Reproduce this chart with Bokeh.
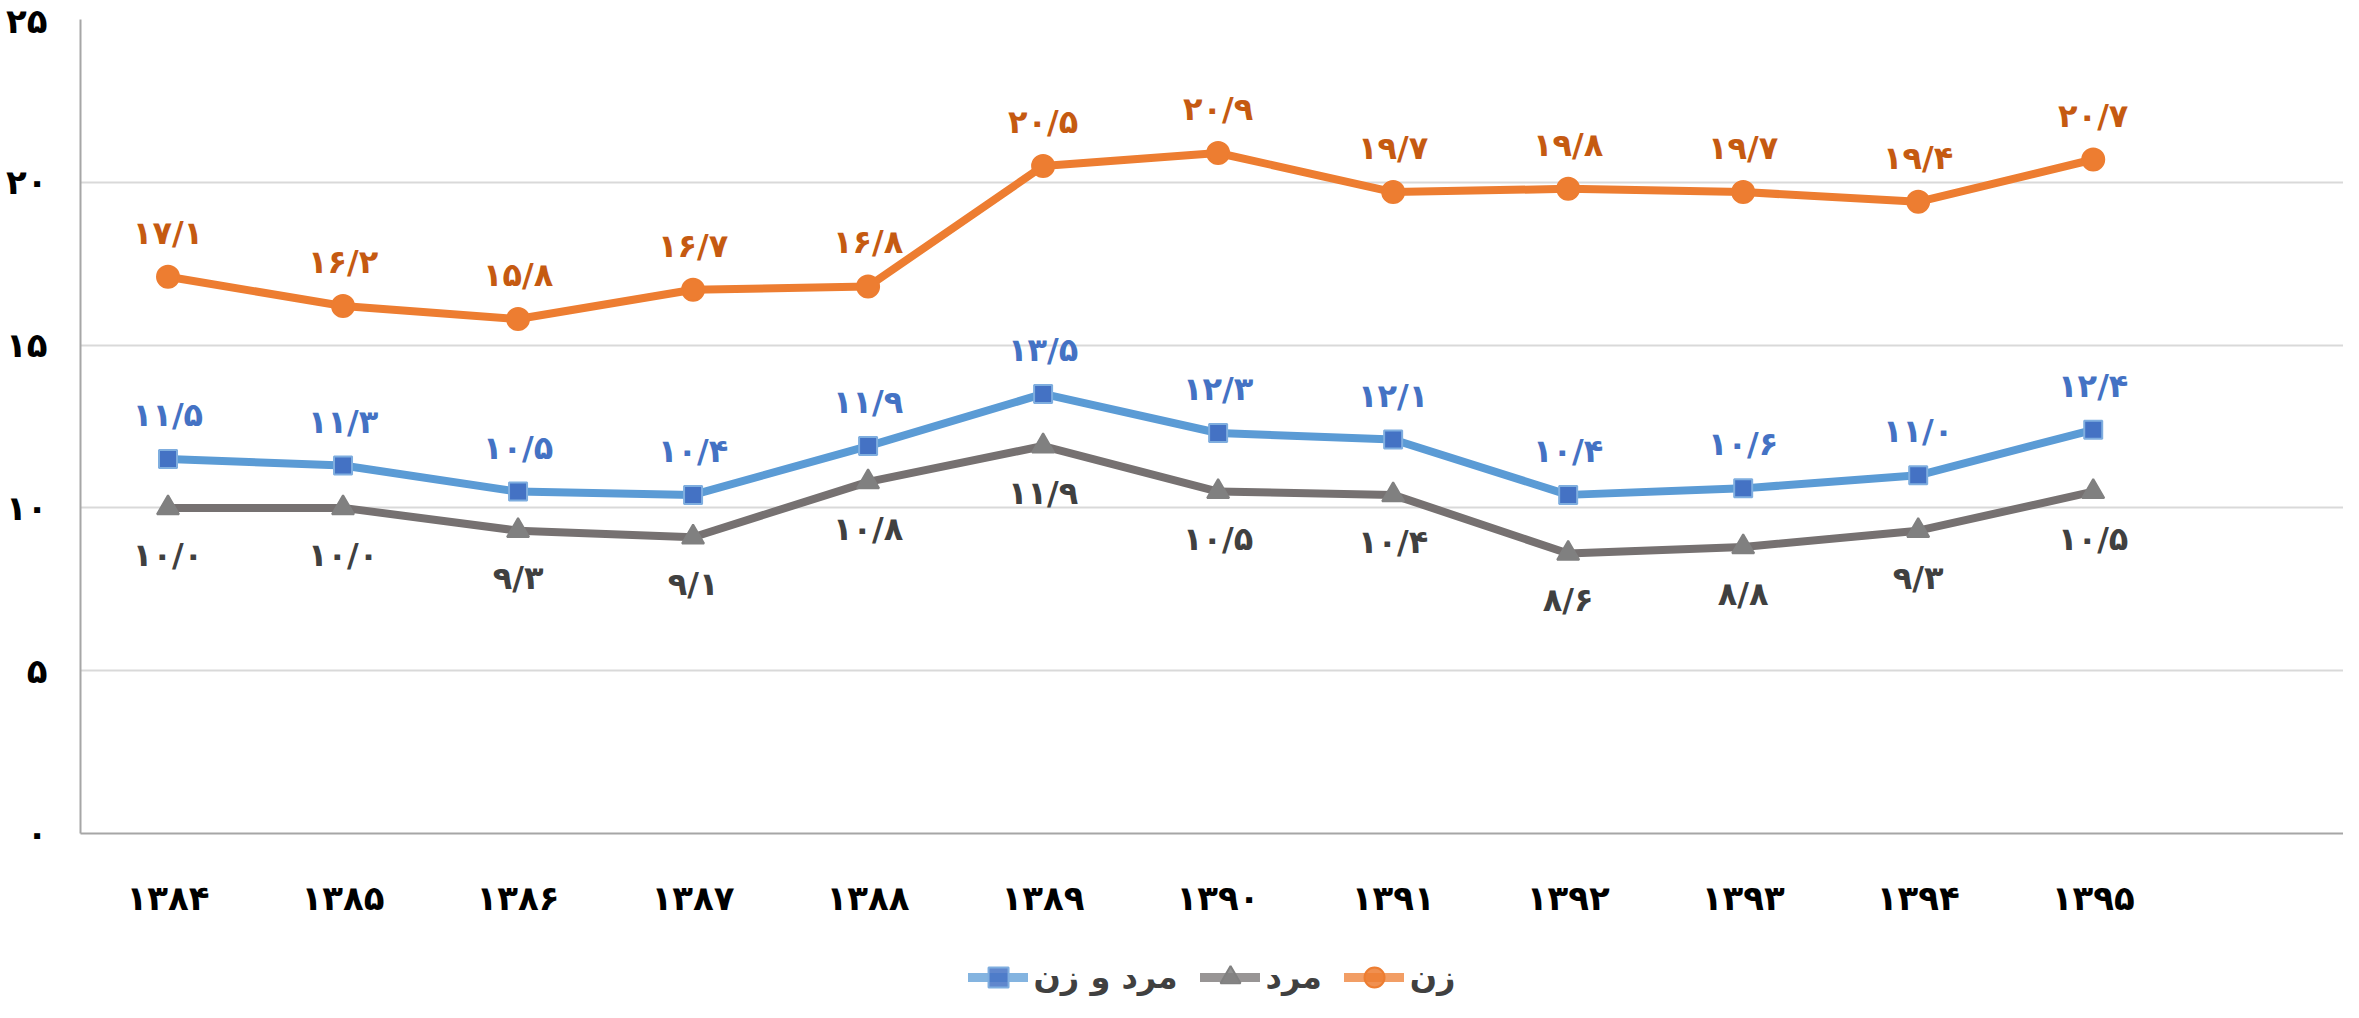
from bokeh.plotting import figure
from bokeh.layouts import column
from bokeh.models import (Range1d, FixedTicker, Legend, LegendItem, ColumnDataSource)
from bokeh.core.properties import value
from bokeh.embed import file_html
from bokeh.resources import INLINE

years = ["1384", "1385", "1386", "1387", "1388", "1389", "1390", "1391", "1392", "1393", "1394", "1395"]
women = [17.1, 16.2, 15.8, 16.7, 16.8, 20.5, 20.9, 19.7, 19.8, 19.7, 19.4, 20.7]
both = [11.5, 11.3, 10.5, 10.4, 11.9, 13.5, 12.3, 12.1, 10.4, 10.6, 11.0, 12.4]
men = [10.0, 10.0, 9.3, 9.1, 10.8, 11.9, 10.5, 10.4, 8.6, 8.8, 9.3, 10.5]
y_ticks = [0, 5, 10, 15, 20, 25]

name_women = "زن"
name_men = "مرد"
name_both = "مرد و زن"

FA = str.maketrans("0123456789.", "۰۱۲۳۴۵۶۷۸۹/")


def fa(s):
    return str(s).translate(FA)


FONT = "DejaVu Sans"
xs = list(range(len(years)))

p = figure(width=2343, height=945, output_backend="svg", toolbar_location=None,
           x_range=Range1d(-0.5, 12.43), y_range=Range1d(0, 25),
           min_border_left=80, min_border_right=0, min_border_top=19, min_border_bottom=112)
p.outline_line_color = None
p.background_fill_color = "white"
p.border_fill_color = "white"

# grid
p.xgrid.grid_line_color = None
p.ygrid.grid_line_color = "#D9D9D9"
p.ygrid.grid_line_width = 2

# axes
p.yaxis.ticker = FixedTicker(ticks=y_ticks)
p.yaxis.major_label_overrides = {t: fa(t) for t in y_ticks}
p.xaxis.ticker = FixedTicker(ticks=xs)
p.xaxis.major_label_overrides = {i: fa(y) for i, y in enumerate(years)}
for ax in (p.xaxis, p.yaxis):
    ax.axis_line_color = "#A6A6A6"
    ax.axis_line_width = 2
    ax.major_tick_line_color = None
    ax.minor_tick_line_color = None
    ax.major_label_text_font = FONT
    ax.major_label_text_font_style = "bold"
    ax.major_label_text_color = "#000000"
    ax.major_label_text_font_size = "34px"
p.yaxis.major_label_standoff = 27
p.xaxis.major_label_standoff = 38

series = [
    (name_women, women, "#ED7D31", "#ED7D31", "#ED7D31", "circle", 22, "#C55A11", "above"),
    (name_both, both, "#5B9BD5", "#4472C4", "#7FAEDF", "square", 18, "#4472C4", "above"),
    (name_men, men, "#767171", "#808080", "#808080", "triangle", 22, "#404040", "below"),
]

# legend strip (separate small figure below the chart; its y range hides the data)
lf = figure(width=2343, height=57, output_backend="svg", toolbar_location=None,
            x_range=Range1d(-0.5, 12.43), y_range=Range1d(-2, -1),
            min_border_left=45, min_border_right=0, min_border_top=0, min_border_bottom=0)
lf.axis.visible = False
lf.grid.visible = False
lf.outline_line_color = None
lf.border_fill_color = "white"

legend_items = {}
for name, vals, lc, mfill, mline, marker, size, tc, pos in series:
    src = ColumnDataSource(dict(x=xs, y=vals, lab=[fa(f"{v:.1f}") for v in vals]))
    p.line("x", "y", source=src, line_color=lc, line_width=8, line_join="round")
    p.scatter("x", "y", source=src, marker=marker, size=size, fill_color=mfill,
              line_color=mline, line_width=2)
    off = -44 if pos == "above" else 47
    p.text("x", "y", text="lab", source=src, text_align="center", text_baseline="middle",
           y_offset=off, text_color=tc, text_font=value(FONT), text_font_size="32px",
           text_font_style="bold")
    l2 = lf.line("x", "y", source=src, line_color=lc, line_width=9, line_alpha=0.75,
                 line_cap="round")
    s2 = lf.scatter("x", "y", source=src, marker=marker, size=size, fill_color=mfill,
                    line_color=mline, line_width=2, fill_alpha=0.85)
    legend_items[name] = LegendItem(label=name, renderers=[l2, s2])

legend = Legend(items=[legend_items[name_both], legend_items[name_men], legend_items[name_women]],
                orientation="horizontal", location="bottom_center")
legend.label_text_font = FONT
legend.label_text_font_style = "bold"
legend.label_text_font_size = "32px"
legend.label_text_color = "#404040"
legend.glyph_width = 60
legend.glyph_height = 50
legend.label_standoff = 6
legend.spacing = 22
legend.border_line_color = None
legend.background_fill_alpha = 0
legend.margin = 0
legend.padding = 3
lf.add_layout(legend, "center")

layout = column(p, lf, spacing=0)
open("out.html", "w").write(file_html(layout, INLINE))
